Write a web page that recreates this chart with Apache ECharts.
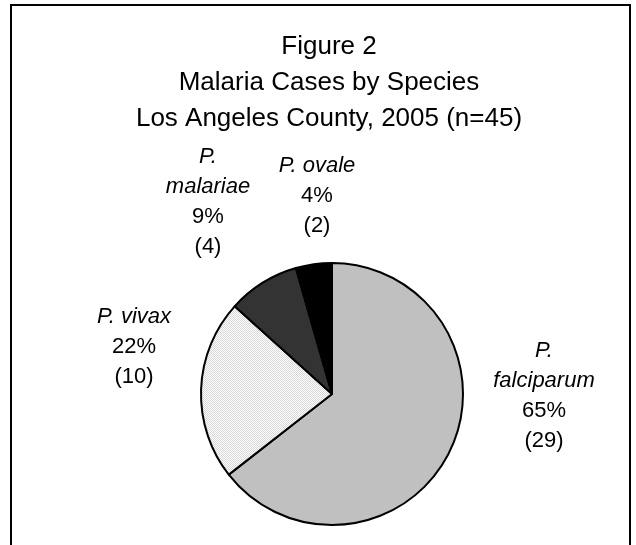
<!DOCTYPE html>
<html>
<head>
<meta charset="utf-8">
<title>Malaria Cases by Species</title>
<script src="https://cdn.jsdelivr.net/npm/echarts@6/dist/echarts.min.js"></script>
<style>
  html, body { margin: 0; padding: 0; background: #fff; }
  #chart { width: 636px; height: 545px; }
</style>
</head>
<body>
<div id="chart"></div>
<script>
// data
var species = ['P.\nfalciparum', 'P. vivax', 'P.\nmalariae', 'P. ovale'];
var cases = [29, 10, 4, 2];
var percents = [65, 22, 9, 4];   // as printed in the figure (Excel rounding)
var titleLines = ['Figure 2', 'Malaria Cases by Species', 'Los Angeles County, 2005 (n=45)'];

// 填充样式
var sliceColors = ['#c0c0c0', null, '#333333', '#000000'];
// label centres, Excel style (not along the slice)
var labelPos = [[544, 396], [134, 347], [208, 202], [317, 196]];

// dotted fill for P. vivax
var dots = document.createElement('canvas');
dots.width = 2;
dots.height = 2;
var ctx = dots.getContext('2d');
ctx.fillStyle = '#ffffff';
ctx.fillRect(0, 0, 2, 2);
ctx.fillStyle = '#d6d6d6';
ctx.fillRect(0, 0, 1, 1);
ctx.fillRect(1, 1, 1, 1);
sliceColors[1] = { image: dots, repeat: 'repeat' };

var pieData = species.map(function (name, i) {
    return {
        name: name,
        value: cases[i],
        itemStyle: { color: sliceColors[i] }
    };
});

var myChart = echarts.init(document.getElementById('chart'), null, { renderer: 'canvas' });

var option = {
    backgroundColor: '#ffffff',
    animation: false,
    title: {
        text: titleLines.join('\n'),
        left: 324,
        top: 24,
        textAlign: 'center',
        textStyle: {
            fontFamily: 'Liberation Sans, Arial, sans-serif',
            fontWeight: 'normal',
            fontSize: 26,
            lineHeight: 36,
            color: '#000'
        }
    },
    graphic: [{
        type: 'rect',
        shape: { x: 11, y: 5, width: 619, height: 620 },
        style: { fill: null, stroke: '#000', lineWidth: 2 },
        silent: true
    }],
    series: [{
        type: 'pie',
        center: [332, 394],
        radius: 131,
        startAngle: 90,
        clockwise: true,
        silent: true,
        itemStyle: {
            borderColor: '#000',
            borderWidth: 2
        },
        label: {
            show: true,
            position: 'outside',
            formatter: function (p) {
                var nameLines = p.name.split('\n').map(function (s) {
                    return '{i|' + s + '}';
                });
                return nameLines.join('\n') + '\n{n|' + percents[p.dataIndex] + '%}\n{n|(' + p.value + ')}';
            },
            rich: {
                i: {
                    fontFamily: 'Liberation Sans, Arial, sans-serif',
                    fontStyle: 'italic',
                    fontSize: 22,
                    lineHeight: 30,
                    color: '#000'
                },
                n: {
                    fontFamily: 'Liberation Sans, Arial, sans-serif',
                    fontSize: 22,
                    lineHeight: 30,
                    color: '#000'
                }
            },
            align: 'center'
        },
        labelLine: { show: false },
        labelLayout: function (params) {
            var pos = labelPos[params.dataIndex];
            return {
                x: pos[0],
                y: pos[1],
                align: 'center',
                verticalAlign: 'middle',
                hideOverlap: false
            };
        },
        data: pieData
    }]
};

option && myChart.setOption(option);
</script>
</body>
</html>
